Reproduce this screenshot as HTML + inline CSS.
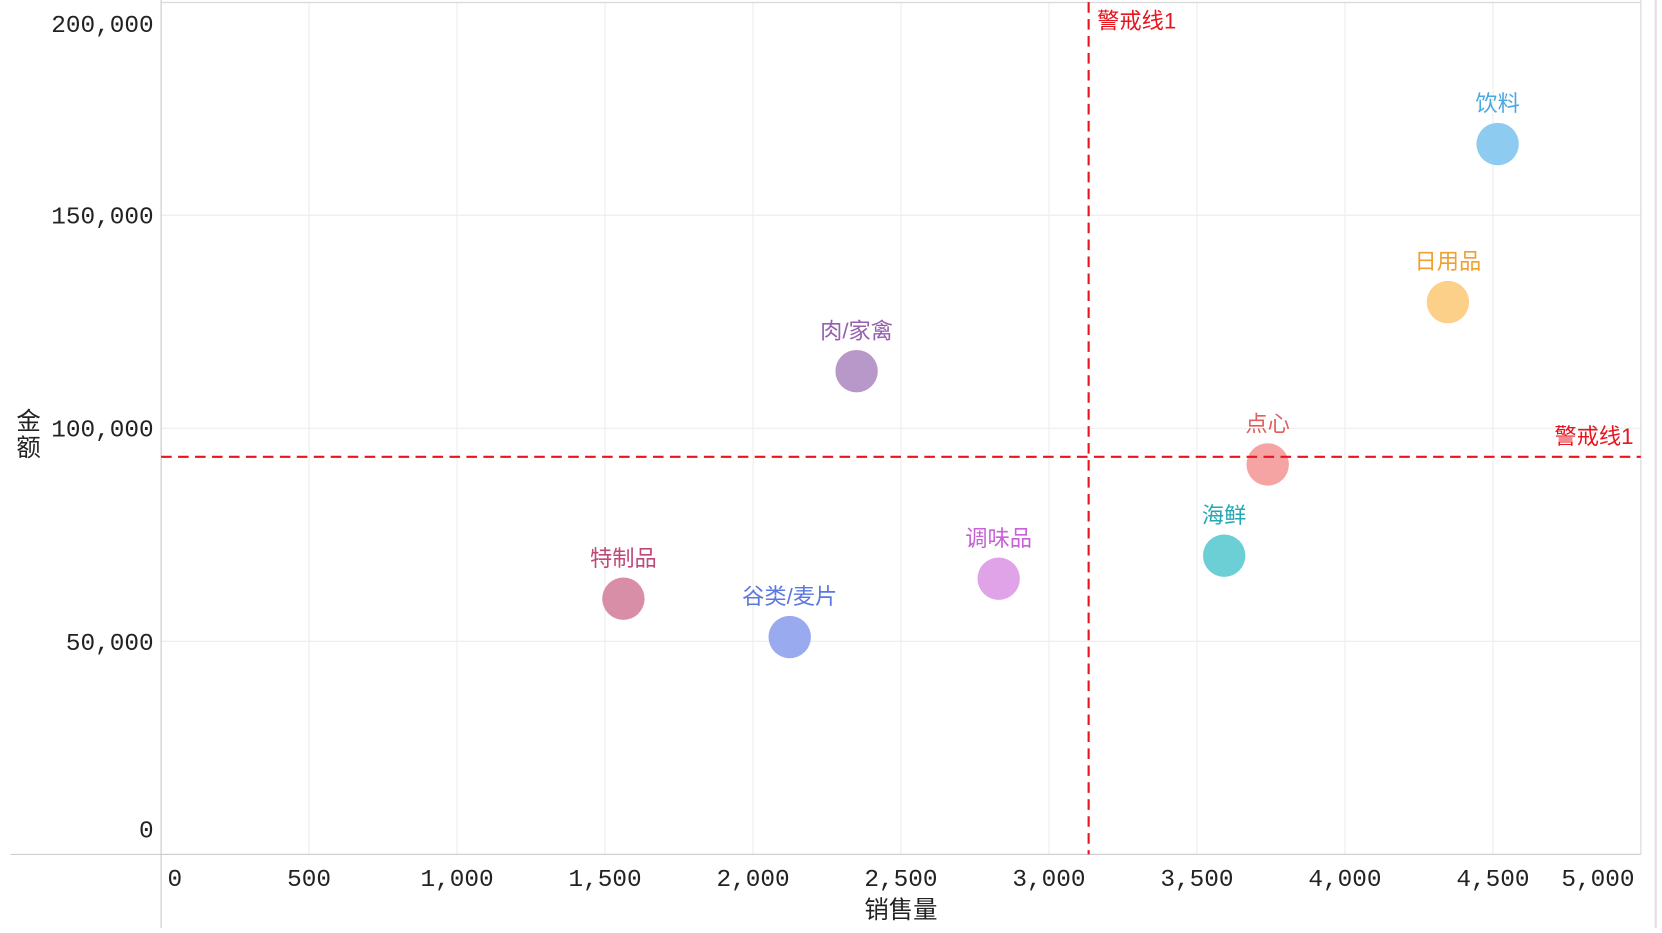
<!DOCTYPE html>
<html><head><meta charset="utf-8"><style>
body{margin:0;background:#fff;width:1662px;height:928px;overflow:hidden}
svg text{font-family:"Liberation Mono","Noto Sans CJK SC",monospace}
.cj{font-family:"Liberation Sans","Noto Sans CJK SC",sans-serif !important}
</style></head><body>
<svg width="1662" height="928"><g id="chart" transform="scale(1.06)"></g></svg>
<script>
const categories=["饮料","日用品","肉/家禽","点心","海鲜","调味品","特制品","谷类/麦片"];
const qtyValues=[4516,4348,2350,3739,3592,2830,1562,2124];
const amountValues=[166700,129600,113400,91500,70100,64700,60000,51000];
const fillColors=["#8ecbf0","#fdd08a","#b897c9","#f5a3a3","#6ccfd6","#e0a3e8","#d98ea8","#99aaee"];
const labelColors=["#4aa8e0","#f0a030","#9560b0","#e06060","#20a8b5","#c860d8","#c04878","#5a78e0"];
const xTicks=[0,500,1000,1500,2000,2500,3000,3500,4000,4500,5000];
const xTickLabels=["0","500","1,000","1,500","2,000","2,500","3,000","3,500","4,000","4,500","5,000"];
const yTicks=[0,50000,100000,150000,200000];
const yTickLabels=["0","50,000","100,000","150,000","200,000"];
const warnX=[3134];
const warnY=[93300];

const NS="http://www.w3.org/2000/svg";
const svg=document.getElementById('chart');
const X0=152,X1=1548,Y0=806,Y1=2;
const sx=v=>X0+(v-0)/5000*(X1-X0);
const sy=v=>Y0-(v-0)/200000*(Y0-Y1);
function mk(tag,attrs,parent){const e=document.createElementNS(NS,tag);for(const k in attrs)e.setAttribute(k,attrs[k]);(parent||svg).appendChild(e);return e;}

const grid=mk('g',{});


xTicks.forEach(t=>{mk('line',{x1:sx(t),x2:sx(t),y1:Y1,y2:Y0,stroke:'#ececec','stroke-width':1},grid);});
yTicks.forEach(t=>{mk('line',{x1:X0,x2:X1,y1:sy(t),y2:sy(t),stroke:'#ececec','stroke-width':1},grid);});
const frame=mk('g',{});


mk('line',{x1:X0,x2:X0,y1:0,y2:876,stroke:'#c8c8c8'},frame);
mk('line',{x1:10,x2:X1,y1:Y0,y2:Y0,stroke:'#c8c8c8'},frame);
mk('line',{x1:X0,x2:X1,y1:2.5,y2:2.5,stroke:'#d8d8d8'},frame);
mk('line',{x1:X1,x2:X1,y1:0,y2:Y0,stroke:'#d8d8d8'},frame);
mk('line',{x1:1562,x2:1562,y1:0,y2:876,stroke:'#e0e0e0','stroke-width':2},frame);

const xl=mk('g',{});


xTicks.forEach((t,i)=>{
  let x=sx(t),anchor='middle';
  if(i===0){x+=6;anchor='start';}
  if(i===xTicks.length-1){x-=6;anchor='end';}
  const e=mk('text',{x:x,y:836,'font-size':23,fill:'#222','text-anchor':anchor},xl);e.textContent=xTickLabels[i];
});
const yl=mk('g',{});


yTicks.forEach((t,i)=>{
  let y=sy(t)+8;
  if(i===0)y=sy(t)-16;
  if(i===yTicks.length-1)y=sy(t)+28;
  const e=mk('text',{x:145,y:y,'font-size':23,fill:'#222','text-anchor':'end'},yl);e.textContent=yTickLabels[i];
});
const xt=mk('text',{x:850,y:866,'font-size':23,fill:'#222','text-anchor':'middle',class:'cj'});
xt.textContent='销售量';


const yt=mk('g',{});


const y1=mk('text',{x:27,y:405,'font-size':23,fill:'#222','text-anchor':'middle',class:'cj'},yt);y1.textContent='金';
const y2=mk('text',{x:27,y:430,'font-size':23,fill:'#222','text-anchor':'middle',class:'cj'},yt);y2.textContent='额';

categories.forEach((c,i)=>{
  const g=mk('g',{});
  
  
  mk('circle',{cx:sx(qtyValues[i]),cy:sy(amountValues[i]),r:20,fill:fillColors[i]},g);
  const t=mk('text',{x:sx(qtyValues[i]),y:sy(amountValues[i])-31,'font-size':21,fill:labelColors[i],'text-anchor':'middle',class:'cj'},g);
  t.textContent=c;
});

warnX.forEach(v=>{
  const g=mk('g',{});
  
  
  mk('line',{x1:sx(v),x2:sx(v),y1:Y1,y2:Y0,stroke:'#e8141e','stroke-width':2,'stroke-dasharray':'10,6'},g);
  const t=mk('text',{x:sx(v)+8,y:27,'font-size':21,fill:'#e8141e',class:'cj'},g);t.textContent='警戒线1';
});
warnY.forEach(v=>{
  const g=mk('g',{});
  
  
  mk('line',{x1:X0,x2:X1,y1:sy(v),y2:sy(v),stroke:'#e8141e','stroke-width':2,'stroke-dasharray':'10,6'},g);
  const t=mk('text',{x:X1-7,y:sy(v)-12,'font-size':21,fill:'#e8141e','text-anchor':'end',class:'cj'},g);t.textContent='警戒线1';
});
</script>
</body></html>
